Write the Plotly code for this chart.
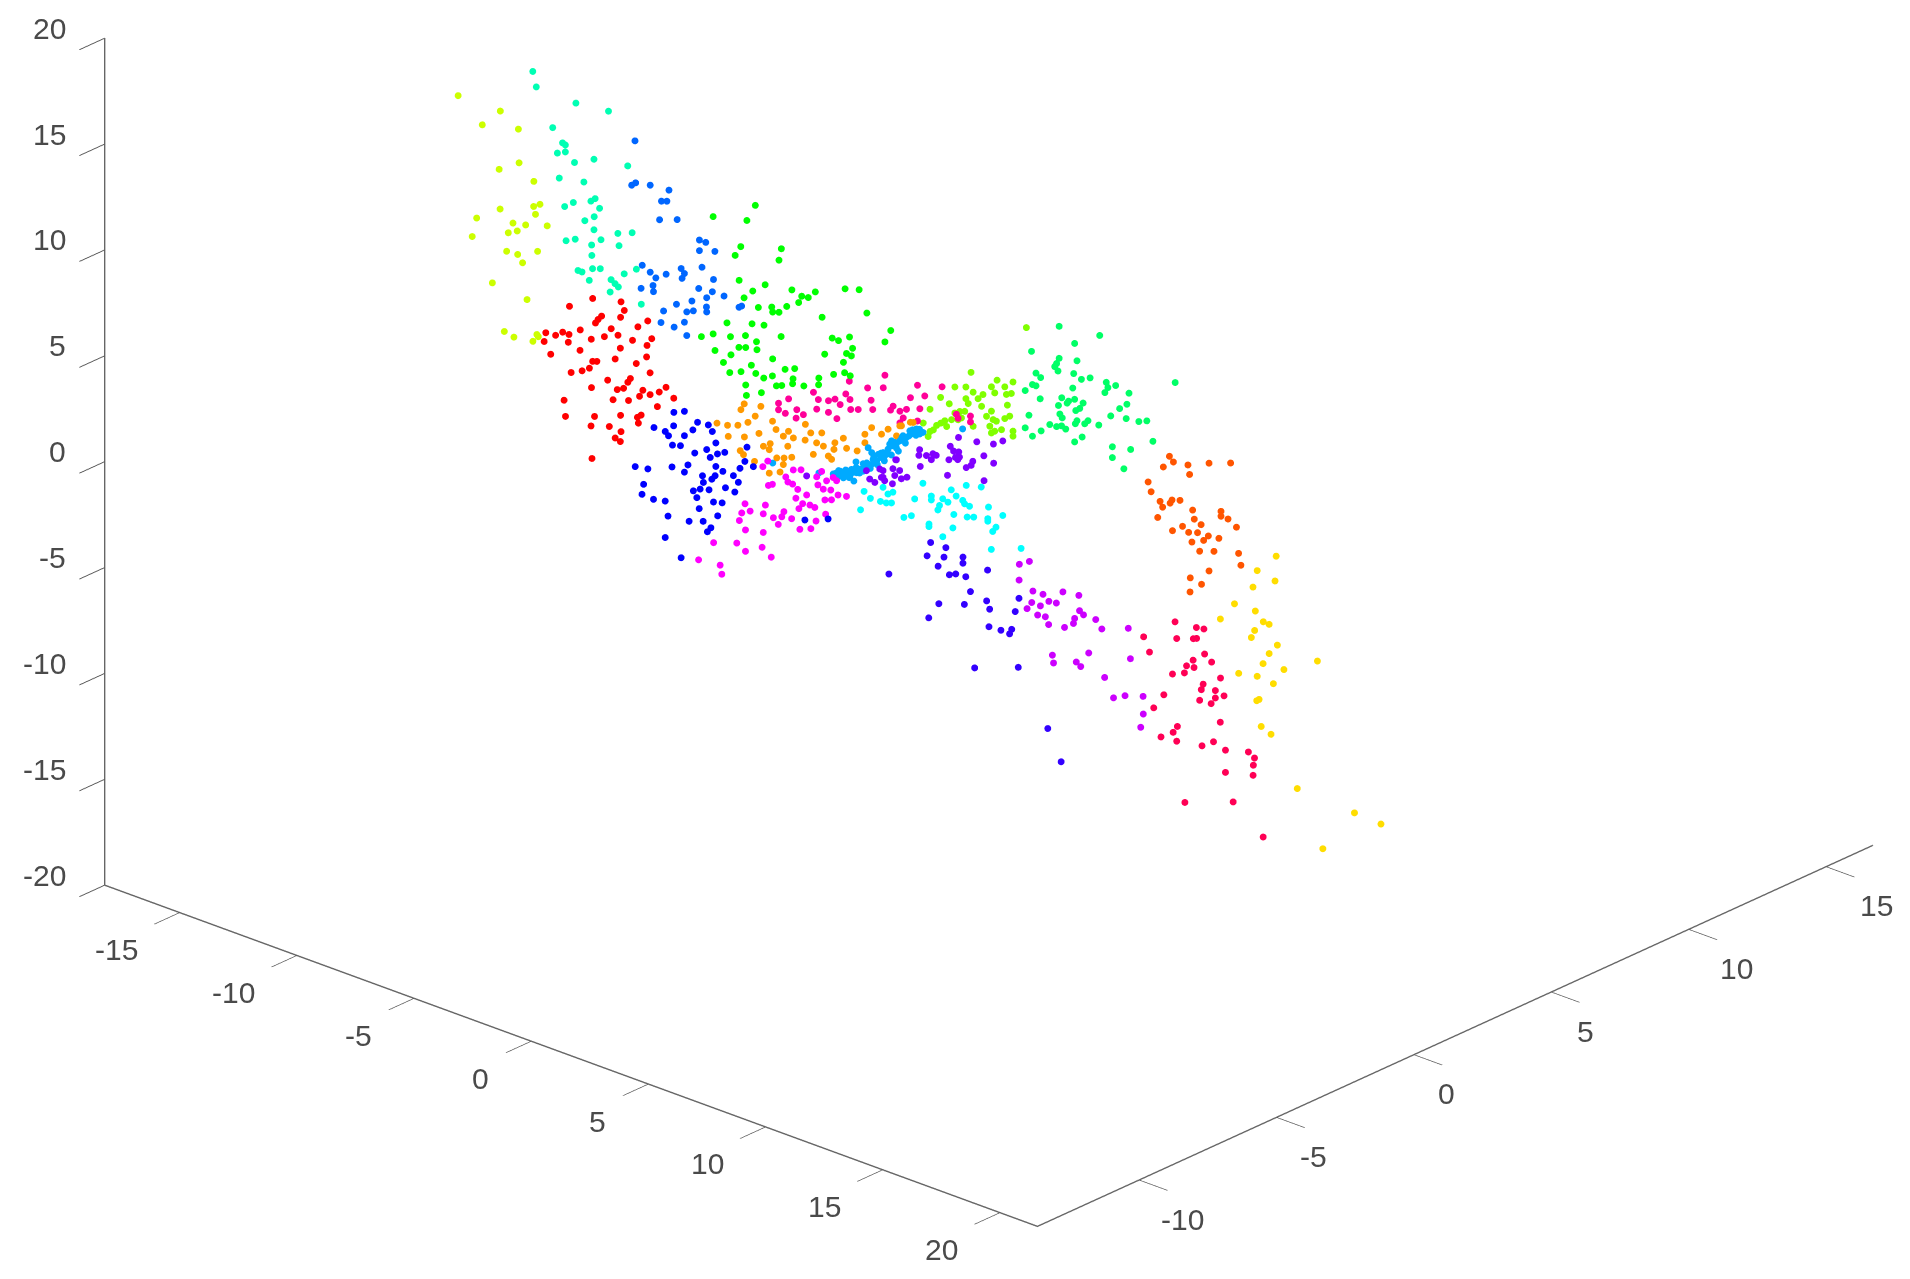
import plotly.graph_objects as go

x_ticks = [-15, -10, -5, 0, 5, 10, 15, 20]
y_ticks = [-10, -5, 0, 5, 10, 15]
z_ticks = [-20, -15, -10, -5, 0, 5, 10, 15, 20]

red_y = -6
red_x = [-6.41,-7.4,-5.2,-5.06,-5.22,-6.03,-6.18,-6.29,-4.06,-4.48,-5.62,-6.94,-8.41,-7.99,-7.69,-7.42,-8.48,-7.45,-6.47,-5.91,-5.33,-4.71,-3.89,-4.09,-6.95,-5.23,-8.2,-5.45,-4.11,-6.23,-6.41,-6.55,-4.55,-7.33,-6.86,-3.96,-5.77,-4.8,-4.91,-5.09,-5.36,-6.46,-3.28,-3.57,-4.27,-4.41,-3.96,-2.95,-7.63,-5.54,-4.88,-3.65,-7.57,-6.33,-5.22,-4.34,-4.5,-4.46,-6.48,-5.7,-5.2,-5.45,-5.23,-6.44]
red_z = [7.93,7.16,8.26,7.91,7.52,7.25,7.03,6.82,7.82,7.37,6.82,6.23,5.5,5.55,5.82,5.82,5.06,5.44,5.98,6.33,6.63,6.64,7.05,6.65,5.26,6.06,4.57,5.46,6.1,5.03,4.96,4.58,5.61,4.06,4.33,5.41,4.33,4.8,4.58,4.22,4.05,3.7,5.0,4.66,4.46,4.12,4.38,4.62,2.63,3.5,3.73,3.94,1.89,2.39,2.89,3.26,3.09,2.83,1.88,2.17,2.13,1.73,1.65,0.36]

orangered_y = 6
orangered_x = [4.13,4.3,3.87,4.92,5.82,6.74,4.99,3.22,3.35,3.73,3.84,4.16,4.24,4.58,5.12,3.63,5.19,5.48,6.33,6.33,6.63,6.99,4.69,4.26,4.95,5.33,5.09,5.59,5.79,6.24,5.42,6.03,7.08,7.18,5.82,5.02,5.5,5.01]
orangered_z = [-2.36,-2.56,-2.97,-2.45,-2.0,-1.62,-2.87,-3.94,-4.35,-4.65,-4.88,-4.56,-4.38,-4.26,-4.5,-5.45,-4.9,-5.04,-4.07,-4.3,-4.31,-4.55,-5.44,-5.82,-5.62,-5.48,-6.02,-5.74,-5.45,-5.38,-6.32,-6.08,-5.75,-6.27,-7.09,-7.74,-7.85,-8.41]

orange_y = 0
orange_x = [-6.98,-7.12,-6.27,-8.14,-7.69,-7.25,-6.82,-6.51,-5.77,-5.62,-7.66,-6.97,-6.35,-5.31,-5.09,-4.88,-4.37,-4.38,-4.14,-3.67,-3.89,-3.6,-6.16,-5.87,-5.12,-3.11,-2.75,-2.61,-3.15,-4.03,-3.39,-3.25,-7.15,-7.01,-6.54,-5.91,-5.59,-5.28,-4.95,-5.31,-5.45,-5.91,-1.54,-1.83,-1.83,-1.12,-0.84,-0.48,-2.16,-0.27,0.23,-0.34,0.11]
orange_z = [-0.83,-1.16,-0.66,-2.21,-2.13,-1.95,-1.64,-1.22,-1.16,-1.49,-2.64,-2.39,-1.97,-1.68,-1.36,-1.59,-0.74,-1.49,-1.05,-0.86,-1.42,-1.46,-2.5,-2.26,-2.08,-1.1,-0.74,-1.16,-1.43,-2.02,-1.84,-1.94,-3.11,-3.24,-3.37,-2.56,-2.82,-2.7,-2.53,-3.02,-3.43,-3.67,0.25,-0.18,-0.58,0.11,0.46,0.29,-1.1,0.85,1.21,0.82,1.17]

yellow_y = 4
yellow_x = [9.25,10.14,8.65,10.48,10.73,10.11,9.97,11.08,10.73,10.47,12.79,11.36,9.43,10.22,10.91,10.2,10.3,10.39,10.81,11.93,14.37,15.5,13.02,11.03,10.22,10.98,10.04]
yellow_z = [-6.07,-6.05,-7.03,-6.42,-6.44,-6.98,-7.37,-7.28,-7.82,-8.4,-7.34,-8.32,-9.28,-9.1,-9.17,-10.26,-10.16,-11.4,-11.6,-13.71,-13.87,-13.94,-16.11,-3.1,-4.11,-4.29,-4.96]

yellowgreen_y = -10
yellowgreen_x = [-7.46,-5.66,-6.43,-4.89,-5.71,-4.86,-4.23,-5.67,-6.67,-6.86,-4.24,-3.97,-4.16,-5.12,-4.58,-3.66,-5.32,-4.94,-5.39,-4.92,-4.07,-4.71,-6.0,-4.52,-5.49,-5.08,-4.1,-4.27,-4.04]
yellowgreen_z = [19.45,19.45,18.49,18.91,16.68,17.33,16.71,14.82,13.99,13.04,15.52,15.73,15.18,14.38,14.51,14.84,13.84,14.08,12.94,12.98,13.47,12.67,11.2,11.01,9.11,9.01,9.53,9.14,9.45]

lime_y = 4
lime_x = [-1.99,-2.68,-2.21,-0.88,-0.2,-0.55,-1.12,-0.98,-1.9,-1.48,-1.69,-3.29,-2.21,-2.11,-2.92,-0.27,-0.48,-3.74,-0.44,-1.54,-2.26,-2.47,-2.68,-2.82,-3.11,-3.28,-3.46,-3.6,-4.03,-3.82,-3.74,-3.03,-2.54,-1.12,-1.33,-1.05,-0.91,-0.34,-0.55,-1.9,-1.19,-0.98,-0.69,-0.2,-0.2,-1.12,-2.4,0.37]
lime_z = [0.31,-0.66,-0.47,0.39,0.58,0.21,-0.02,-0.25,-0.59,-0.53,-0.81,-1.4,-1.02,-1.21,-1.55,0.01,-0.12,-2.14,-0.61,-1.11,-1.64,-1.73,-1.89,-2.26,-2.43,-2.61,-2.79,-3.06,-2.91,-3.46,-3.19,-2.67,-2.15,-1.17,-1.5,-1.54,-1.56,-1.09,-1.29,-2.2,-1.91,-2.06,-1.87,-1.74,-1.98,-2.2,-2.01,3.38]

green_y = -2
green_x = [-4.16,-5.96,-4.52,-4.78,-5.02,-3.05,-3.15,-4.85,-3.74,-4.27,-2.6,-4.64,-2.18,-1.9,-2.31,-1.6,-0.33,0.27,-2.82,-4.03,-3.46,-3.42,-3.15,0.6,-1.31,-5.37,-4.3,-3.79,-6.46,-5.96,-5.22,-4.58,-3.06,-0.88,-0.61,-0.14,1.62,1.37,-4.11,-4.86,-4.57,-4.09,-5.88,-5.2,-0.01,-1.2,-0.27,-0.06,-3.42,-5.52,-0.4,-4.33,-5.25,-4.77,-4.14,-3.8,-3.43,-2.89,-2.48,-2.55,-0.82,-0.35,-0.11,-1.45,-4.57,-3.26,-3.03,-2.57,-2.09,-1.46,-4.54,-3.9]
green_z = [10.87,9.61,10.01,8.67,8.16,9.27,8.69,7.05,7.29,6.78,7.51,6.31,7.38,7.43,7.03,7.82,8.48,8.68,6.64,6.1,6.35,6.13,6.23,7.71,6.74,4.83,5.22,5.36,3.74,4.07,4.24,4.55,5.12,5.93,5.92,6.28,7.3,6.66,4.45,3.88,3.99,4.08,3.32,3.39,5.8,5.04,5.45,5.42,3.92,2.9,4.98,3.25,2.53,2.77,2.94,2.86,3.11,3.64,3.84,3.33,4.24,4.51,4.46,3.81,2.22,2.71,2.82,3.09,3.18,3.49,1.74,2.13]

spring_y = 8
spring_x = [-2.92,-1.19,-2.26,-4.1,-2.16,-2.92,-3.03,-3.11,-2.97,-3.91,-3.71,-4.06,-3.91,-2.3,-1.97,-1.6,-4.37,-2.34,-0.91,-0.51,-0.84,-0.97,0.06,-3.73,-2.81,-2.26,-2.52,-2.58,-1.9,-2.95,-0.03,-0.34,-2.04,-2.21,-4.21,-2.89,-2.79,-0.72,-0.06,0.48,0.82,-2.16,-2.23,-1.69,-1.83,-1.23,-3.32,-3.03,-2.82,-2.64,-4.37,-3.69,-4.06,-1.94,-2.26,1.08,-0.65,0.13,-0.65,-0.16,2.03]
spring_z = [-0.26,0.01,-0.8,-1.92,-1.58,-1.77,-2.06,-2.24,-2.39,-2.87,-3.0,-3.47,-3.47,-2.24,-2.38,-2.16,-3.88,-2.94,-2.09,-2.08,-2.31,-2.6,-2.21,-4.01,-3.59,-3.44,-3.63,-3.75,-3.47,-4.01,-2.77,-3.1,-3.78,-3.95,-4.98,-4.39,-4.53,-3.6,-3.46,-3.38,-3.21,-4.41,-4.58,-4.22,-4.42,-4.24,-5.06,-5.04,-4.92,-5.0,-5.64,-5.51,-5.91,-5.09,-5.45,-4.07,-5.03,-4.84,-5.54,-5.87,-0.91]

aqua_y = -8
aqua_x = [-6.62,-6.47,-4.78,-3.39,-5.77,-5.35,-5.23,-5.57,-5.23,-4.84,-4.01,-2.57,-5.49,-4.44,-5.26,-4.89,-4.14,-3.96,-3.77,-4.0,-4.4,-4.01,-2.99,-2.38,-5.2,-4.81,-3.71,-4.11,-2.94,-4.1,-4.69,-4.52,-4.07,-3.74,-2.72,-2.2,-4.21,-3.28,-3.11,-2.97,-3.32,-1.99]
aqua_z = [19.75,19.08,19.0,19.18,17.44,16.89,16.84,16.32,16.51,16.17,16.66,16.93,15.17,15.41,13.92,14.26,14.63,14.82,14.44,13.95,13.6,13.33,13.57,13.85,12.33,12.56,12.98,12.57,13.01,12.08,11.13,11.13,11.47,11.6,11.77,12.2,10.86,11.27,11.15,11.05,10.67,10.63]

cyan_y = -2
cyan_x = [0.48,0.75,1.18,1.43,1.65,1.5,1.71,0.33,2.64,3.35,3.35,3.84,4.06,3.7,3.63,4.41,4.2,4.69,4.77,4.98,4.84,5.48,5.79,6.4,5.76,5.76,4.31,4.88,5.16,2.18,2.5,3.25,3.25,4.27,3.84,6.11,5.97,5.91,7.18,2.99,1.29]
cyan_z = [-0.76,-0.98,-0.95,-0.92,-0.83,-0.47,-0.3,-1.69,-0.24,0.18,0.0,0.25,0.18,-0.12,-0.36,0.61,0.82,0.52,0.39,0.36,1.29,1.47,0.65,0.5,0.09,-0.03,-0.3,-0.19,-0.08,-1.3,-1.09,-1.18,-1.3,-0.95,-1.54,-0.17,-0.43,-1.3,-0.74,0.64,-0.24]

sky_y = 0
sky_x = [-3.18,-2.97,-2.75,-2.89,-2.61,-2.4,-2.21,-2.18,-2.04,-1.83,-1.69,-1.54,-1.4,-1.26,-1.05,-0.84,-0.69,-0.63,-0.48,-0.34,-0.2,-0.06,0.16,0.37,0.51,0.65,-1.12,-1.33,-1.54,-1.76,-1.48,-1.9,-2.47,-2.68,-3.03,-0.98,-0.77,-0.48,-3.79,-5.76,-2.3,0.09,2.34,
         -3.1,-2.95,-2.8,-2.65,-2.5,-2.35,-2.2,-2.05,-1.9,-1.75,-1.6,-1.45,-1.3,-1.15,-1.0,-0.85,-0.7,-0.55,-0.4,-0.25,-0.1,0.05,0.2,0.35,0.5]
sky_z = [-2.6,-2.62,-2.61,-2.35,-2.32,-2.07,-1.64,-2.14,-1.92,-1.73,-0.76,-0.93,-1.03,-0.9,-0.73,-0.48,-0.03,-0.24,-0.07,0.11,0.41,0.38,0.64,0.96,0.78,0.91,-1.0,-1.24,-1.48,-1.73,-1.22,-1.95,-2.42,-2.42,-2.49,-0.86,-0.22,-0.29,-2.8,-3.13,-2.58,0.76,1.76,
         -2.55,-2.35,-2.5,-2.2,-2.5,-2.2,-1.9,-2.1,-1.6,-1.5,-1.7,-1.05,-1.4,-0.8,-1.1,-0.7,-0.7,-0.05,-0.4,0.3,0.1,0.5,0.85,0.65,1.0]

azure_y = -4
azure_x = [-6.95,-7.09,-6.92,-6.3,-5.5,-5.82,-5.59,-5.9,-5.15,-4.2,-3.93,-4.2,-3.54,-4.09,-6.64,-6.3,-6.06,-5.62,-4.98,-4.84,-4.94,-3.6,-6.69,-6.18,-6.16,-4.23,-3.65,-3.89,-3.15,-4.52,-5.18,-4.46,-4.74,-3.9,-3.89,-5.73,-2.4,-2.51,-5.84,-4.84,-5.28,-4.74]
azure_z = [13.97,11.82,12.0,12.14,12.23,11.58,11.67,10.67,10.98,10.4,10.4,9.9,10.13,9.16,8.22,8.03,7.86,8.21,8.74,8.56,8.29,8.78,7.11,7.45,7.17,8.1,8.18,7.8,8.18,7.39,6.97,6.95,6.79,7.36,7.13,6.43,8.01,7.91,5.84,6.26,5.85,5.67]

blue_y = -4
blue_x = [-5.29,-4.84,-6.14,-4.28,-5.3,-5.66,-5.52,-4.84,-4.48,-3.82,-3.65,-5.35,-5.01,-3.5,-2.17,-4.4,-3.89,-3.74,-3.43,-3.12,-6.94,-6.4,-5.37,-4.69,-4.84,-3.5,-2.26,-2.47,-1.9,-3.2,-4.07,-3.53,-3.67,-4.03,-2.75,-2.54,-6.58,-6.65,-6.16,-5.66,-4.46,-4.17,-4.31,-3.79,-3.09,-2.69,-3.6,-3.23,-4.21,-5.54,-4.64,-4.04,-3.42,-3.71,-3.86,-5.66,-4.98,0.3,1.29]
blue_z = [1.82,2.05,0.76,1.76,1.18,0.77,0.62,0.9,1.32,1.82,1.58,0.25,0.36,1.1,1.44,0.26,0.63,0.32,0.61,0.81,-1.41,-1.3,-0.79,-0.42,-0.82,-0.01,0.73,0.32,0.63,-0.12,-0.68,-0.46,-0.68,-0.98,-0.14,-0.37,-2.1,-2.6,-2.64,-2.52,-1.55,-1.35,-1.81,-1.23,-0.85,-0.89,-1.73,-1.62,-2.29,-3.18,-3.06,-2.82,-2.31,-2.99,-3.24,-4.24,-4.92,-1.0,-0.55]

indigo_y = 2
indigo_x = [-1.37,-0.72,-1.52,-0.8,0.01,0.01,-1.05,-0.57,-0.3,0.13,1.06,0.33,1.02,1.15,2.4,2.24,-1.02,0.07,-1.45,1.12,1.63,2.09,2.0,0.51,2.37,-3.15,3.63,4.2]
indigo_z = [-6.29,-6.27,-6.98,-6.75,-6.42,-6.71,-7.28,-7.49,-7.34,-7.3,-6.61,-7.92,-8.08,-8.42,-7.4,-8.09,-9.04,-8.63,-9.88,-9.26,-9.22,-8.99,-9.24,-11.45,-10.67,-8.5,-13.05,-14.39]

violet_y = -2
violet_x = [4.51,5.29,6.0,6.4,2.85,2.82,3.14,3.42,3.56,3.35,4.16,4.3,4.52,4.38,4.55,4.1,4.48,5.59,5.12,5.05,4.84,6.01,2.88,4.04,5.6,1.83,1.71,2.0,1.79,1.29,1.22,1.36,1.69,2.07,2.31,0.58,0.72,0.94,1.15,1.29,1.86,-1.97]
violet_z = [3.42,3.53,3.71,4.02,2.17,1.89,2.01,2.21,2.19,1.9,2.86,2.69,2.74,2.42,2.51,2.2,2.36,2.99,2.54,2.32,2.13,2.81,1.39,1.44,1.82,1.28,0.81,0.84,0.52,0.55,0.2,0.1,0.09,0.48,0.65,0.26,-0.08,-0.15,0.57,0.23,1.29,-1.02]

purple_y = 4
purple_x = [0.07,0.5,0.06,0.65,1.08,1.93,2.61,0.6,0.97,1.33,1.65,0.4,0.85,1.18,1.32,2.64,2.81,2.43,2.38,2.0,3.33,3.59,4.72,1.48,1.53,3.03,2.5,2.69,4.81,3.71,4.09,4.58,5.35,5.36,5.25]
purple_z = [-7.92,-7.61,-8.67,-8.95,-8.93,-8.47,-8.36,-9.51,-9.52,-9.16,-9.11,-9.88,-10.0,-9.95,-10.26,-9.07,-9.2,-9.52,-9.78,-10.12,-9.21,-9.55,-9.06,-11.64,-11.99,-10.91,-11.55,-11.69,-10.46,-11.79,-12.6,-12.3,-12.02,-12.85,-13.52]

magenta_y = -2
magenta_x = [-3.63,-3.84,-2.54,-2.21,-2.86,-2.77,-2.57,-1.33,-1.54,-1.12,-0.84,-0.69,-3.6,-3.43,-1.49,-1.26,-0.94,-2.35,-1.97,-2.43,-0.63,-0.27,-1.19,-0.91,-2.14,-1.83,-1.62,-2.3,-4.6,-3.73,-4.38,-4.74,-3.82,-2.94,-3.03,-3.39,-3.18,-2.61,-4.84,-4.58,-3.82,-2.26,-1.79,-1.57,-1.16,-4.95,-5.94,-3.87,-4.58,-3.48,-6.58,-5.66,-5.59]
magenta_z = [-0.99,-1.34,-0.97,-0.83,-1.43,-1.63,-1.65,-0.55,-0.89,-0.91,-0.64,-0.73,-2.13,-2.01,-1.25,-1.36,-1.27,-1.81,-1.92,-2.26,-1.38,-1.3,-1.84,-1.72,-2.4,-2.34,-2.37,-2.7,-3.4,-3.11,-3.66,-3.89,-3.56,-3.1,-3.38,-3.57,-3.8,-3.3,-4.29,-4.63,-4.44,-3.66,-3.44,-2.99,-2.5,-5.4,-5.78,-5.16,-5.64,-5.47,-6.85,-6.73,-7.13]

pink_y = 2
pink_x = [-3.32,-4.06,-3.39,-1.93,-0.88,-4.84,-6.37,-7.43,-7.86,-7.86,-7.57,-7.08,-7.11,-6.8,-6.23,-6.16,-5.73,-5.45,-5.23,-5.73,-5.37,-4.99,-4.81,-4.78,-4.46,-3.91,-3.84,-2.23,-1.62,-1.83,-2.97,-3.08,-2.68,-2.4,-2.54,-2.68,-1.93,-0.27,-0.2,0.33,0.33]
pink_z = [0.82,-0.08,0.2,0.91,1.26,-0.08,-1.22,-1.96,-2.34,-2.65,-2.7,-2.33,-2.74,-2.45,-1.96,-1.48,-1.36,-1.17,-1.34,-1.91,-2.06,-0.74,-0.93,-1.39,-1.26,-0.6,-1.01,0.2,0.53,-0.16,-0.5,-0.73,-0.62,-0.42,-0.88,-1.17,-0.78,0.21,0.05,0.37,0.09]

crimson_y = 6
crimson_x = [4.37,5.28,5.6,3.03,4.44,5.15,5.29,3.28,5.63,5.93,5.14,4.86,5.18,4.26,4.77,6.31,5.57,5.49,6.09,6.09,6.46,5.42,5.91,3.89,3.46,6.3,4.47,4.29,3.77,4.44,5.52,6.01,6.52,7.5,7.76,7.71,7.7,6.52,4.79,6.85,8.13]
crimson_z = [-10.08,-9.98,-9.92,-11.33,-10.84,-10.56,-10.49,-11.95,-11.09,-11.35,-11.58,-11.96,-11.91,-12.59,-12.33,-11.95,-12.54,-12.83,-12.63,-12.98,-12.73,-13.36,-13.32,-13.72,-14.51,-14.04,-14.98,-15.33,-15.76,-15.69,-15.47,-15.08,-15.27,-14.96,-15.14,-15.5,-15.98,-16.32,-18.44,-17.58,-18.72]

series = [
    ("#ff0000", red_x, red_y, red_z), ("#ff5500", orangered_x, orangered_y, orangered_z),
    ("#ff9900", orange_x, orange_y, orange_z), ("#ffdd00", yellow_x, yellow_y, yellow_z),
    ("#ccff00", yellowgreen_x, yellowgreen_y, yellowgreen_z), ("#80ff00", lime_x, lime_y, lime_z),
    ("#00ff00", green_x, green_y, green_z), ("#00ff66", spring_x, spring_y, spring_z),
    ("#00ffb3", aqua_x, aqua_y, aqua_z), ("#00ffff", cyan_x, cyan_y, cyan_z),
    ("#00aaff", sky_x, sky_y, sky_z), ("#0066ff", azure_x, azure_y, azure_z),
    ("#0000ff", blue_x, blue_y, blue_z), ("#3300ff", indigo_x, indigo_y, indigo_z),
    ("#8000ff", violet_x, violet_y, violet_z), ("#cc00ff", purple_x, purple_y, purple_z),
    ("#ff00ff", magenta_x, magenta_y, magenta_z), ("#ff0099", pink_x, pink_y, pink_z),
    ("#ff0055", crimson_x, crimson_y, crimson_z),
]

x_range = [-18.2, 21.6]
y_range = [-13.7, 16.7]
z_range = [-20, 20]
label_font = dict(family="Liberation Sans", size=30, color="#4a4a4a")

def ax(r, t):
    return dict(range=r, tickvals=t, showticklabels=False, title=dict(text=""),
                showgrid=False, zeroline=False, showbackground=False, showspikes=False, showline=True,
                linecolor="#666666", linewidth=3, ticks="outside", ticklen=38, tickwidth=2, tickcolor="#555555")

def label(x, y, z, value, anchor, dx, dy):
    return dict(x=x, y=y, z=z, text=str(value), showarrow=False, font=label_font,
                xanchor=anchor, yanchor="middle", xshift=dx, yshift=dy)

annotations = [label(v, y_range[0], z_range[0], v, "right", -40, -37) for v in x_ticks]
annotations += [label(x_range[1], v, z_range[0], v, "left", dx, -39)
                for v, dx in zip(y_ticks, [20, 21, 22, 24, 29, 32])]
annotations += [label(x_range[0], y_range[0], v, v, "right", -37, 10) for v in z_ticks]

fig = go.Figure()
for colour, xs, yc, zs in series:
    fig.add_trace(go.Scatter3d(x=xs, y=[yc] * len(xs), z=zs, mode="markers",
                               marker=dict(size=4, color=colour, line=dict(width=0)), hoverinfo="skip"))
c = (0.0577, -0.1248, -0.2936); k = 4; d = (0.609, -0.680, 0.4085)
fig.update_layout(width=1910, height=1279, margin=dict(l=0, r=0, t=0, b=0), paper_bgcolor="white", showlegend=False,
    scene=dict(domain=dict(x=[0, 1], y=[0, 1]),
               xaxis=ax(x_range, x_ticks), yaxis=ax(y_range, y_ticks), zaxis=ax(z_range, z_ticks),
               annotations=annotations,
               aspectmode="manual", aspectratio=dict(x=1.958, y=1.958, z=1.451),
               camera=dict(projection=dict(type="orthographic"), up=dict(x=0, y=0, z=1),
                           center=dict(x=c[0], y=c[1], z=c[2]),
                           eye=dict(x=c[0] + k * d[0], y=c[1] + k * d[1], z=c[2] + k * d[2]))))
fig.write_html("out.html")
